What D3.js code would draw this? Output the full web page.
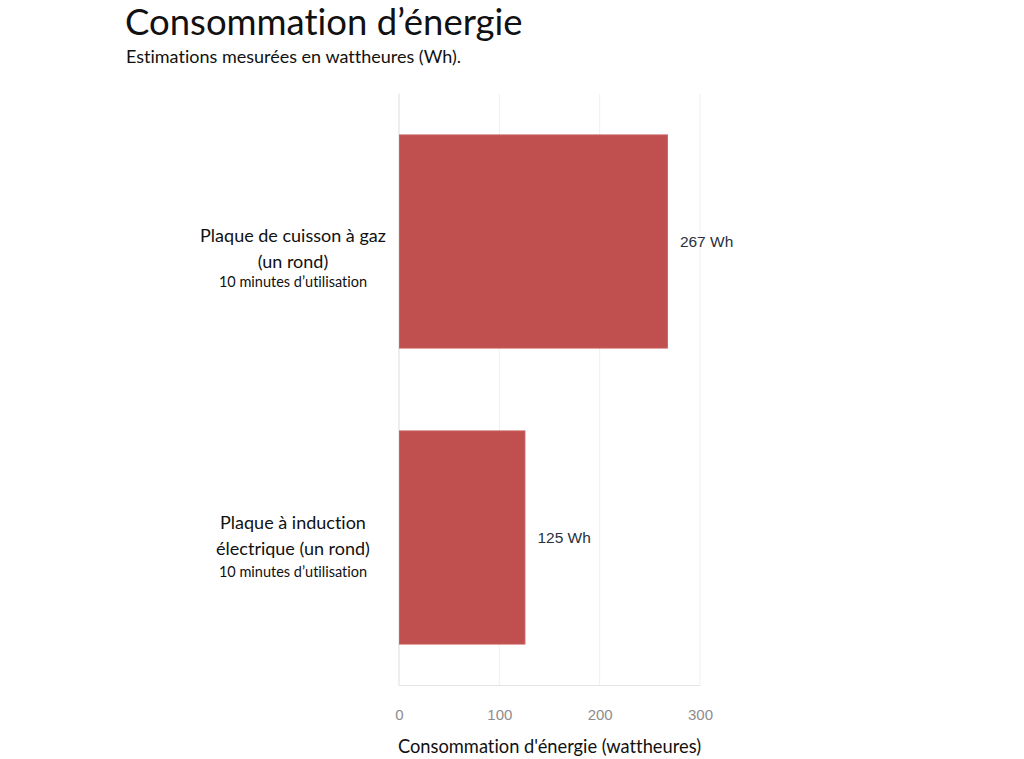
<!DOCTYPE html>
<html lang="fr">
<head>
<meta charset="UTF-8">
<title>Consommation d’énergie</title>
<script src="https://d3js.org/d3.v7.min.js"></script>
<style>
    body { margin: 0; background: #fff; }
    .lbl { font-family: Lato, "Noto Sans", sans-serif; fill: #111; font-variant-ligatures: none; }
    .tick text { font-family: "Liberation Sans", Arial, sans-serif; font-size: 15px; fill: #8c8c8c; }
    .val { font-family: "Liberation Sans", Arial, sans-serif; font-size: 15.5px; fill: #2a3140; }
</style>
</head>
<body>
<div id="chart"></div>
<script>
    // Daten
    const categories = ["gaz", "induction"];
    const labelLines = [
        ["Plaque de cuisson à gaz", "(un rond)"],
        ["Plaque à induction", "électrique (un rond)"]
    ];
    const subLabels = ["10 minutes d’utilisation", "10 minutes d’utilisation"];
    const values = [267, 125];
    const xTicks = [0, 100, 200, 300];

    const width = 1024, height = 759;
    const mLeft = 399, mRight = 700, mTop = 93.5, mBottom = 685.5;

    const svg = d3.select("#chart").append("svg")
        .attr("width", width).attr("height", height);

    const x = d3.scaleLinear().domain([0, 300]).range([mLeft, mRight]);
    const y = d3.scaleBand().domain(categories).range([mTop, mBottom]).paddingInner(0.28).paddingOuter(0.14);

    // Titel
    svg.append("text").attr("class", "lbl")
        .attr("x", 125).attr("y", 35)
        .style("font-size", "36.5px")
        .text("Consommation d’énergie");
    svg.append("text").attr("class", "lbl")
        .attr("x", 126).attr("y", 63)
        .style("font-size", "18px")
        .text("Estimations mesurées en wattheures (Wh).");

    // Gitter
    svg.selectAll(".grid").data(xTicks).enter().append("line")
        .attr("x1", d => x(d)).attr("x2", d => x(d))
        .attr("y1", mTop).attr("y2", mBottom)
        .attr("stroke", (d, i) => i === 0 ? "#ddd" : "#f0f0f0")
        .attr("stroke-width", 1);
    svg.append("line")
        .attr("x1", mLeft).attr("x2", mRight)
        .attr("y1", mBottom).attr("y2", mBottom)
        .attr("stroke", "#e4e4e4");

    // Achse
    const axis = svg.append("g")
        .attr("transform", `translate(0,${mBottom})`)
        .call(d3.axisBottom(x).tickValues(xTicks).tickSize(0).tickPadding(24));
    axis.select(".domain").remove();

    svg.append("text").attr("class", "lbl")
        .attr("x", (mLeft + mRight) / 2).attr("y", 753)
        .attr("text-anchor", "middle")
        .style("font-size", "18.3px")
        .text("Consommation d'énergie (wattheures)");

    // Balken
    svg.selectAll(".bar").data(values).enter().append("rect")
        .attr("x", x(0) + 0.5)
        .attr("y", (d, i) => y(categories[i]))
        .attr("width", d => x(d) - x(0))
        .attr("height", y.bandwidth())
        .attr("fill", "#c0504f")
        .attr("stroke", "#c9605e")
        .attr("stroke-width", 1);

    svg.selectAll(".val").data(values).enter().append("text")
        .attr("class", "val")
        .attr("x", d => x(d) + 13)
        .attr("y", (d, i) => y(categories[i]) + y.bandwidth() / 2 + 5)
        .text(d => d + " Wh");

    // Kategorien
    categories.forEach((c, i) => {
        const cy = y(c) + y.bandwidth() / 2;
        const g = svg.append("g");
        labelLines[i].forEach((t, j) => {
            g.append("text").attr("class", "lbl")
                .attr("x", 293).attr("y", cy + (i === 0 ? 0 : -9) + j * 26)
                .attr("text-anchor", "middle")
                .style("font-size", "18px")
                .text(t);
        });
        g.append("text").attr("class", "lbl")
            .attr("x", 293).attr("y", cy + (i === 0 ? 45 : 39))
            .attr("text-anchor", "middle")
            .style("font-size", "14.5px")
            .text(subLabels[i]);
    });
</script>
</body>
</html>
